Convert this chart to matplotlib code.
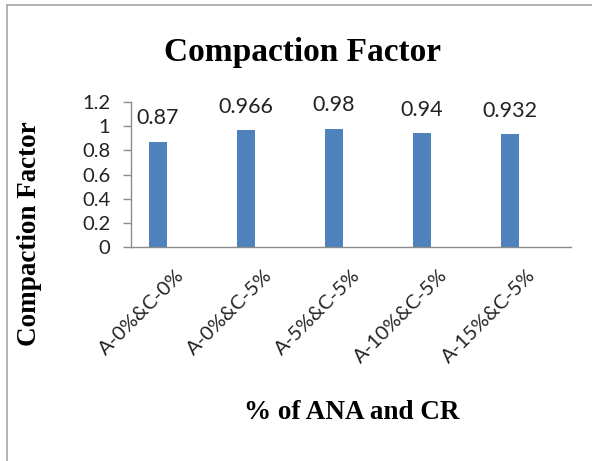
import matplotlib
matplotlib.use("Agg")
import matplotlib.pyplot as plt
from matplotlib.lines import Line2D

categories = ["A-0%&C-0%", "A-0%&C-5%", "A-5%&C-5%", "A-10%&C-5%", "A-15%&C-5%"]
values = [0.87, 0.966, 0.98, 0.94, 0.932]
value_labels = ["0.87", "0.966", "0.98", "0.94", "0.932"]
yticks = [0, 0.2, 0.4, 0.6, 0.8, 1, 1.2]
ytick_labels = ["0", "0.2", "0.4", "0.6", "0.8", "1", "1.2"]

bar_color = "#4F81BD"
axis_color = "#8C8C8C"
serif = "Liberation Serif"
sans = "Lato"

fig = plt.figure(figsize=(5.92, 4.61), dpi=100)
ax = fig.add_axes([131 / 592, 1 - 247 / 461, 440 / 592, 145 / 461])

x = list(range(len(categories)))
offset = -0.193
ax.bar([i + offset for i in x], values, width=0.205, color=bar_color, zorder=2)

for i, v, lab in zip(x, values, value_labels):
    ax.annotate(lab, (i + offset, v), xytext=(0, 17), textcoords="offset points",
                ha="center", va="center", fontsize=15.5, family=sans, color="#222222")

ax.set_xlim(-0.5, 4.5)
ax.set_ylim(0, 1.2)
ax.set_yticks(yticks)
ax.set_yticklabels(ytick_labels, family=sans, fontsize=14.5, color="#222222")
ax.set_xticks(x)
ax.set_xticklabels(categories, rotation=45, ha="right", rotation_mode="anchor",
                   family=sans, fontsize=14.5, color="#222222")
ax.tick_params(axis="x", length=0, pad=14)
ax.tick_params(axis="y", length=6, width=1, color=axis_color, pad=9)

for s in ["top", "right"]:
    ax.spines[s].set_visible(False)
for s in ["left", "bottom"]:
    ax.spines[s].set_color(axis_color)
    ax.spines[s].set_linewidth(1)

fig.text(302 / 592, 1 - 53 / 461, "Compaction Factor", ha="center", va="center",
         family=serif, fontweight="bold", fontsize=24)
fig.text(30 / 592, 1 - 234 / 461, "Compaction Factor", ha="center", va="center",
         rotation=90, family=serif, fontweight="bold", fontsize=19.5)
fig.text(352 / 592, 1 - 412 / 461, "% of ANA and CR", ha="center", va="center",
         family=serif, fontweight="bold", fontsize=19.5)

# outer chart frame (top and left edges)
fig.add_artist(Line2D([7 / 592, 1], [1 - 5 / 461, 1 - 5 / 461], color="#A6A6A6", lw=1.2))
fig.add_artist(Line2D([7 / 592, 7 / 592], [0, 1 - 5 / 461], color="#A6A6A6", lw=1.2))

fig.savefig("out.png", dpi=100)
